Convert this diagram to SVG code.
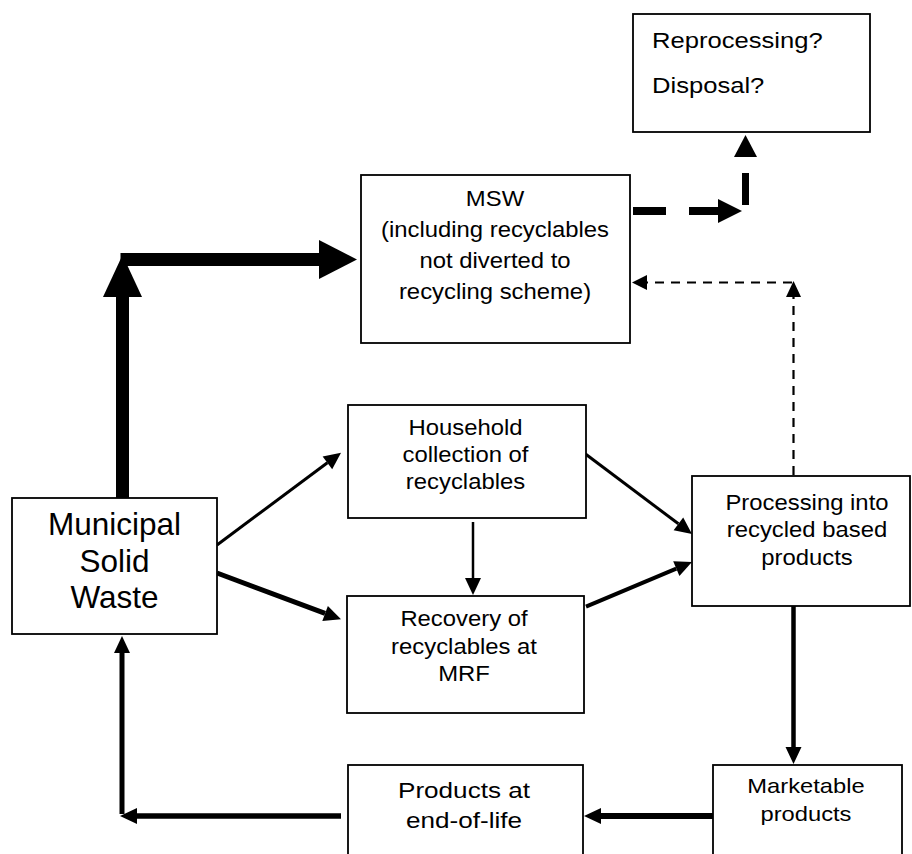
<svg xmlns="http://www.w3.org/2000/svg" width="912" height="854" viewBox="0 0 912 854">
<style>
.box{fill:#fff;stroke:#000;stroke-width:1.8}
.t{font-family:"Liberation Sans",Arial,sans-serif;fill:#000;text-anchor:middle}
.c{stroke:#000;fill:none;stroke-linecap:butt}
.h{fill:#000;stroke:none}
</style>
<defs>
<marker id="ah" markerUnits="userSpaceOnUse" markerWidth="18" markerHeight="18" refX="0" refY="8" orient="auto" overflow="visible">
<path d="M0,0 L17,8 L0,16 z" fill="#000"/>
</marker>
</defs>
<rect x="0" y="0" width="912" height="854" fill="#fff"/>

<g id="connectors">
<!-- Municipal -> MSW thick -->
<line class="c" x1="122.5" y1="498" x2="122.5" y2="296" stroke-width="13"/>
<polygon class="h" points="103,297 142,297 122.5,255"/>
<line class="c" x1="120.5" y1="259.5" x2="320" y2="259.5" stroke-width="13"/>
<polygon class="h" points="319,240 319,279 357,259.5"/>
<!-- MSW -> Reprocessing thick dashed -->
<line class="c" x1="633" y1="211" x2="719" y2="211" stroke-width="8" stroke-dasharray="33 23"/>
<polygon class="h" points="718,199 718,223 742,211"/>
<line class="c" x1="745.5" y1="205" x2="745.5" y2="173" stroke-width="7"/>
<polygon class="h" points="734,157 757,157 745.5,135"/>
<!-- Processing -> MSW thin dashed -->
<line class="c" x1="793.5" y1="475" x2="793.5" y2="297" stroke-width="2.2" stroke-dasharray="9 7"/>
<polygon class="h" points="786,297 801,297 793.5,281"/>
<line class="c" x1="792" y1="282.5" x2="647" y2="282.5" stroke-width="2.2" stroke-dasharray="9 7"/>
<polygon class="h" points="647,275 647,290 632,282.5"/>
<!-- Municipal -> Household -->
<line class="c" x1="217" y1="545" x2="327.4" y2="462.8" stroke-width="3" marker-end="url(#ah)"/>
<!-- Municipal -> Recovery -->
<line class="c" x1="217" y1="573" x2="325.1" y2="613.4" stroke-width="5" marker-end="url(#ah)"/>
<!-- Household -> Processing -->
<line class="c" x1="585.5" y1="454" x2="678.4" y2="523.8" stroke-width="3" marker-end="url(#ah)"/>
<!-- Household -> Recovery -->
<line class="c" x1="473" y1="522" x2="473" y2="578" stroke-width="2.5" marker-end="url(#ah)"/>
<!-- Recovery -> Processing -->
<line class="c" x1="586" y1="606.7" x2="676.3" y2="568.6" stroke-width="4" marker-end="url(#ah)"/>
<!-- Processing -> Marketable -->
<line class="c" x1="793.5" y1="606" x2="793.5" y2="747" stroke-width="4.5" marker-end="url(#ah)"/>
<!-- Marketable -> Products -->
<line class="c" x1="713" y1="816" x2="601" y2="816" stroke-width="6" marker-end="url(#ah)"/>
<!-- Products -> Municipal -->
<line class="c" x1="341" y1="816" x2="137" y2="816" stroke-width="5.5" marker-end="url(#ah)"/>
<line class="c" x1="122" y1="814" x2="122" y2="653" stroke-width="5" marker-end="url(#ah)"/>
</g>

<g id="reprocessing">
<rect class="box" x="633" y="14" width="237" height="118"/>
<text class="t" style="text-anchor:start" font-size="21.5" transform="translate(652,0) scale(1.19,1)"><tspan x="0" y="48">Reprocessing?</tspan><tspan x="0" y="93.5">Disposal?</tspan></text>
</g>

<g id="msw">
<rect class="box" x="361" y="175" width="269" height="168"/>
<text class="t" font-size="22.3" transform="translate(495,0) scale(1.07,1)"><tspan x="0" y="206">MSW</tspan><tspan x="0" y="237.5">(including recyclables</tspan><tspan x="0" y="268.3">not diverted to</tspan><tspan x="0" y="299">recycling scheme)</tspan></text>
</g>

<g id="municipal">
<rect class="box" x="12" y="498" width="205" height="136"/>
<text class="t" font-size="31.5" transform="translate(114.5,0)"><tspan x="0" y="535">Municipal</tspan><tspan x="0" y="572">Solid</tspan><tspan x="0" y="608">Waste</tspan></text>
</g>

<g id="household">
<rect class="box" x="348" y="405" width="238" height="113"/>
<text class="t" font-size="21.3" transform="translate(465.5,0) scale(1.12,1)"><tspan x="0" y="435">Household</tspan><tspan x="0" y="462.5">collection of</tspan><tspan x="0" y="489.5">recyclables</tspan></text>
</g>

<g id="recovery">
<rect class="box" x="347" y="596" width="237" height="117"/>
<text class="t" font-size="21.3" transform="translate(464,0) scale(1.12,1)"><tspan x="0" y="626.5">Recovery of</tspan><tspan x="0" y="654">recyclables at</tspan><tspan x="0" y="681">MRF</tspan></text>
</g>

<g id="processing">
<rect class="box" x="692" y="476" width="218" height="130"/>
<text class="t" font-size="21.3" transform="translate(807,0) scale(1.12,1)"><tspan x="0" y="510">Processing into</tspan><tspan x="0" y="537.5">recycled based</tspan><tspan x="0" y="565">products</tspan></text>
</g>

<g id="products">
<rect class="box" x="348" y="765" width="235" height="100"/>
<text class="t" font-size="22.5" transform="translate(464,0) scale(1.16,1)"><tspan x="0" y="798">Products at</tspan><tspan x="0" y="828">end-of-life</tspan></text>
</g>

<g id="marketable">
<rect class="box" x="713" y="765" width="189" height="100"/>
<text class="t" font-size="20.8" transform="translate(806,0) scale(1.14,1)"><tspan x="0" y="793">Marketable</tspan><tspan x="0" y="821">products</tspan></text>
</g>
</svg>
